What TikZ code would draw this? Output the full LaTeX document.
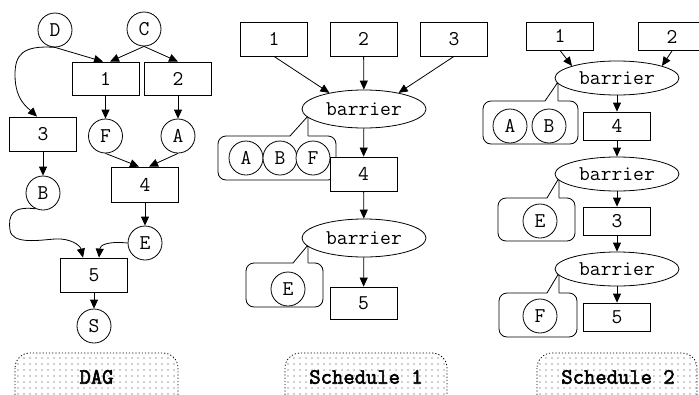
\documentclass[tikz,border=0pt]{standalone}
\usepackage{fontspec}
\newfontfamily\labfont{Latin Modern Mono}[FakeBold=2.5]
\usetikzlibrary{arrows.meta,shapes.geometric,patterns.meta}
\begin{document}
\begin{tikzpicture}[x=1pt,y=-1pt, line width=0.8pt,
  every node/.style={font=\fontsize{21}{23}\selectfont\ttfamily},
  box/.style={draw, fill=white, minimum width=67pt, minimum height=34pt, inner sep=0pt},
  sbox/.style={box, minimum height=28pt},
  circ/.style={draw, fill=white, circle, minimum size=34pt, inner sep=0pt},
  bar/.style={draw, fill=white, ellipse, minimum width=124pt, minimum height=38pt, inner sep=0pt},
  sbar/.style={bar, minimum height=34pt},
  arr/.style={-{Triangle[length=9pt,width=8pt]}},
  lab/.style={draw, dash pattern=on 1.2pt off 2pt, rounded corners=15pt, pattern={Dots[distance=6pt,radius=0.6pt]}, pattern color=black!80},
  labtext/.style={font=\fontsize{22}{24}\selectfont\labfont},
  call/.style={draw, fill=white, rounded corners=8pt},
  pointerfill/.style={fill=white},
]
\clip (0,0) rectangle (699,394);

% ---------- DAG ----------
\node[circ] (D) at (55,30) {D};
\node[circ] (C) at (144,29) {C};
\node[box, minimum height=33pt] (d1) at (105.5,78.5) {1};
\node[box, minimum height=33pt] (d2) at (178,78.5) {2};
\node[box] (d3) at (43,134) {3};
\node[circ] (F) at (105.5,136) {F};
\node[circ] (A) at (178,136) {A};
\node[box, minimum height=35pt] (d4) at (145,184.5) {4};
\node[circ] (B) at (43,193) {B};
\node[circ] (E) at (145,243) {E};
\node[box] (d5) at (94,275) {5};
\node[circ] (S) at (94,326) {S};

\draw[arr] (D.south) -- ([xshift=-2.5pt]d1.north);
\draw[arr] (C.south) -- ([xshift=4.5pt]d1.north);
\draw[arr] (C.south) -- (d2.north);
\draw[arr] (D.south) .. controls (22,45) and (15,55) .. (15,75) .. controls (15,100) and (28,108) .. ([xshift=-6pt]d3.north);
\draw[arr] (d1) -- (F);
\draw[arr] (d2) -- (A);
\draw[arr] (F.south) -- ([xshift=-6pt]d4.north);
\draw[arr] (A.south) -- ([xshift=4pt]d4.north);
\draw[arr] (d3) -- (B);
\draw[arr] (d4) -- (E);
\draw[arr] (B.-115) .. controls (12,206) and (8,215) .. (10,230) .. controls (12,245) and (40,240) .. (55,239) .. controls (70,238) and (80,245) .. ([xshift=-11pt]d5.north);
\draw[arr] (E.west) .. controls (108,241) and (100,245) .. ([xshift=5pt]d5.north);
\draw[arr] (d5) -- (S);

\draw[lab] (15,353) rectangle (178,412);
\node[labtext] (l1) at (96.5,377) {DAG};

% ---------- Schedule 1 ----------
\draw[call] (218,136) rectangle (336,180);
\fill[pointerfill] (290,137) -- (308,116) -- (308,137) -- cycle;
\draw (290,136) -- (308,116) -- (308,136);
\node[circ] (s1A) at (246,158) {A};
\node[circ] (s1B) at (280,158) {B};
\node[circ] (s1F) at (313,158) {F};
\draw[call] (246,263) rectangle (323,307);
\fill[pointerfill] (293,264) -- (308,245) -- (308,264) -- cycle;
\draw (293,263) -- (308,245) -- (308,263);
\node[circ] (s1E) at (288,289) {E};

\node[box] (a1) at (274,39) {1};
\node[box] (a2) at (363.5,39) {2};
\node[box] (a3) at (454,39) {3};
\node[bar] (ab1) at (364,109) {barrier};
\node[box] (a4) at (363.5,174) {4};
\node[bar] (ab2) at (364,238) {barrier};
\node[box, minimum height=32pt] (a5) at (363.5,303) {5};

\draw[arr] (a1.south) -- (ab1.155);
\draw[arr] (a2) -- (ab1);
\draw[arr] (a3.south) -- (ab1.25);
\draw[arr] (ab1) -- (a4);
\draw[arr] (a4) -- (ab2);
\draw[arr] (ab2) -- (a5);

\draw[lab] (285,353) rectangle (447,412);
\node[labtext] (l2) at (366,377) {Schedule 1};

% ---------- Schedule 2 ----------
\draw[call] (483,101) rectangle (578,144);
\fill[pointerfill] (545,102) -- (558,82) -- (558,102) -- cycle;
\draw (545,101) -- (558,82) -- (558,101);
\node[circ] (s2A) at (510,126) {A};
\node[circ] (s2B) at (549,126) {B};
\draw[call] (498,198) rectangle (575,241);
\fill[pointerfill] (547,199) -- (559,178) -- (559,199) -- cycle;
\draw (547,198) -- (559,178) -- (559,198);
\node[circ] (s2E) at (540,221) {E};
\draw[call] (499,293) rectangle (577,337);
\fill[pointerfill] (547,294) -- (559,273) -- (559,294) -- cycle;
\draw (547,293) -- (559,273) -- (559,293);
\node[circ] (s2F) at (540,316) {F};

\node[sbox] (b1) at (560,36) {1};
\node[sbox] (b2) at (672,36.5) {2};
\node[sbar] (bb1) at (617,78) {barrier};
\node[sbox] (b4) at (617,126) {4};
\node[sbar] (bb2) at (617,174) {barrier};
\node[sbox] (b3) at (617,221) {3};
\node[sbar] (bb3) at (617,269) {barrier};
\node[sbox] (b5) at (617,317) {5};

\draw[arr] (b1.south) -- (bb1.165);
\draw[arr] (b2.south) -- (bb1.15);
\draw[arr] (bb1) -- (b4);
\draw[arr] (b4) -- (bb2);
\draw[arr] (bb2) -- (b3);
\draw[arr] (b3) -- (bb3);
\draw[arr] (bb3) -- (b5);

\draw[lab] (537,353) rectangle (697,412);
\node[labtext] (l3) at (618,377) {Schedule 2};
\end{tikzpicture}
\end{document}
